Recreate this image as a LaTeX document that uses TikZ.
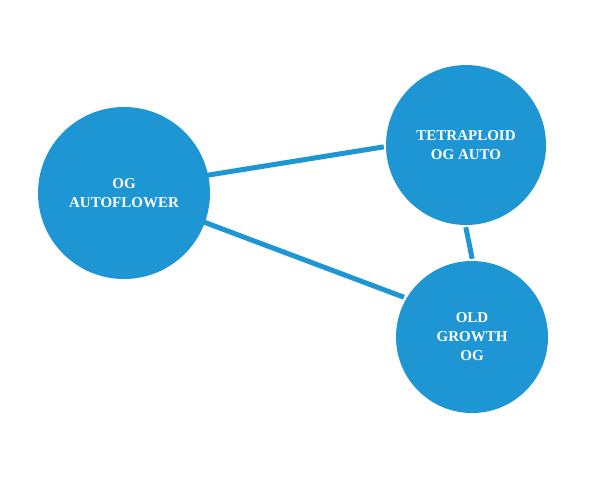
\documentclass[tikz,border=0pt]{standalone}
\usepackage{fontspec}
\setmainfont{Liberation Serif}
\definecolor{ogblue}{HTML}{1E96D3}
\begin{document}
\begin{tikzpicture}[x=1pt,y=-1pt,
  blob/.style={circle,fill=ogblue,inner sep=0pt,align=center,text=white,font=\bfseries\fontsize{15}{19}\selectfont},
  link/.style={draw=ogblue,line width=5pt,shorten >=-1pt,shorten <=-1pt}]
\useasboundingbox (0,0) rectangle (612,477);
\node[blob,minimum size=172pt] (a) at (124,193) {OG\\AUTOFLOWER};
\node[blob,minimum size=160pt] (b) at (466,145) {TETRAPLOID\\OG AUTO};
\node[blob,minimum size=152pt] (c) at (472,337) {OLD\\GROWTH\\OG};
\draw[link] (a.12) -- ([xshift=-3pt]b.west |- 0,147);
\draw[link] (a.-20) -- ([shift={(-3pt,2pt)}]c.150);
\draw[link] ([yshift=-3pt]b.south) -- ([yshift=3pt]c.north);
\end{tikzpicture}
\end{document}
